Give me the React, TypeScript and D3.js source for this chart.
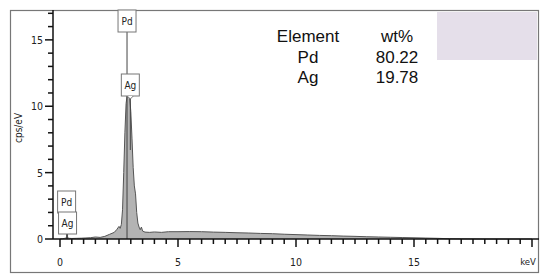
import * as d3 from "d3";
import React from "react";

// spectrum (keV, cps/eV)
const energy = [0, 0.1, 0.2, 0.3, 0.4, 0.5, 0.7, 0.9, 1.1, 1.3, 1.5, 1.7, 1.9, 2.1, 2.3, 2.4, 2.5, 2.55, 2.6, 2.65, 2.7, 2.75, 2.8, 2.85, 2.9, 2.95, 3.0, 3.05, 3.1, 3.15, 3.2, 3.25, 3.3, 3.35, 3.4, 3.45, 3.5, 3.6, 3.8, 4.0, 4.3, 4.6, 5.0, 5.5, 6.0, 6.5, 7.0, 7.5, 8.0, 8.5, 9.0, 9.5, 10.0, 10.5, 11.0, 11.5, 12.0, 12.5, 13.0, 13.5, 14.0, 14.5, 15.0, 15.5, 16.0, 16.5, 17.0, 18.0, 20.0];
const counts = [0, 0.02, 0.05, 0.1, 0.05, 0.04, 0.05, 0.06, 0.08, 0.1, 0.15, 0.12, 0.2, 0.35, 0.5, 0.7, 0.95, 0.8, 1.1, 2.2, 5.0, 8.0, 10.2, 10.9, 11.0, 10.7, 9.6, 7.6, 5.4, 4.0, 3.4, 2.0, 1.2, 0.9, 0.7, 0.9, 0.6, 0.52, 0.5, 0.53, 0.5, 0.55, 0.55, 0.56, 0.55, 0.52, 0.5, 0.47, 0.45, 0.42, 0.4, 0.36, 0.33, 0.3, 0.27, 0.25, 0.22, 0.2, 0.17, 0.15, 0.13, 0.11, 0.09, 0.07, 0.05, 0.02, 0.01, 0, 0];

// peak markers
const markerNames = ["Pd", "Ag", "Pd", "Ag"];
const markerEnergy = [2.84, 2.98, 0.28, 0.32];
const markerTop = [10, 74, 191, 212];

// quantification table
const elements = ["Pd", "Ag"];
const wtPct = ["80.22", "19.78"];

const xTicks = [0, 5, 10, 15];
const yTicks = [0, 5, 10, 15];

const W = 550;
const H = 280;
const x = d3.scaleLinear().domain([0, 20]).range([60, 532]);
const y = d3.scaleLinear().domain([0, 17.25]).range([239, 10]);

const axisFont = "'DejaVu Sans Condensed', 'DejaVu Sans', sans-serif";
const tableFont = "'Liberation Sans', Arial, sans-serif";

const App = () => {
  const pts = energy.map((e, i) => [e, counts[i]] as [number, number]);
  const area = d3
    .area<[number, number]>()
    .x((d) => x(d[0]))
    .y0(y(0))
    .y1((d) => y(d[1]));
  const line = d3
    .line<[number, number]>()
    .x((d) => x(d[0]))
    .y((d) => y(d[1]));

  const minorX = d3.range(0, 20.01, 0.5);
  const minorY = d3.range(0, 17.01, 1);

  return (
    <svg width={W} height={H} style={{ position: "absolute", left: 0, top: 0 }}>
      <rect x={0} y={0} width={W} height={H} fill="#fff" />
      <rect x={10.5} y={10.5} width={528} height={262} fill="none" stroke="#777" strokeWidth={1.2} />

      {/* spectrum */}
      <path d={area(pts) ?? ""} fill="#b3b3b3" />
      <path d={line(pts) ?? ""} fill="none" stroke="#555" strokeWidth={1} />

      {/* marker lines and boxes */}
      {markerNames.map((m, i) => {
        const cx = x(markerEnergy[i]);
        const top = markerTop[i];
        const bw = 18;
        const bh = 22;
        const isAgMain = i === 1;
        return (
          <g key={i}>
            <line x1={cx} x2={cx} y1={top + bh} y2={isAgMain ? 150 : y(0)} stroke="#444" strokeWidth={1} />
            <rect x={cx - bw / 2} y={top} width={bw} height={bh} fill="#fff" stroke="#777" strokeWidth={1} />
            {isAgMain && (
              <path
                d={`M${cx - 3},${top + bh} L${cx},${top + bh + 3} L${cx + 3},${top + bh}`}
                fill="#fff"
                stroke="#777"
              />
            )}
            <text x={cx} y={top + 15} textAnchor="middle" fontFamily={axisFont} fontSize={10} fill="#222">
              {m}
            </text>
          </g>
        );
      })}

      {/* x axis */}
      <line x1={53} x2={539} y1={y(0)} y2={y(0)} stroke="#111" strokeWidth={1.5} />
      {minorX.map((v) => (
        <line
          key={v}
          x1={x(v)}
          x2={x(v)}
          y1={y(0)}
          y2={y(0) + (v % 5 === 0 ? 8 : 5)}
          stroke="#111"
          strokeWidth={1.5}
        />
      ))}
      {xTicks.map((v) => (
        <text key={v} x={x(v)} y={266} textAnchor="middle" fontFamily={axisFont} fontSize={10.5} fill="#222">
          {v}
        </text>
      ))}
      <text x={528} y={265} textAnchor="middle" fontFamily={axisFont} fontSize={9.5} fill="#222">
        keV
      </text>

      {/* y axis */}
      <line x1={53} x2={53} y1={10} y2={y(0)} stroke="#111" strokeWidth={1.5} />
      {minorY.map((v) => (
        <line
          key={v}
          x1={53}
          x2={53 - (v % 5 === 0 ? 8 : 5)}
          y1={y(v)}
          y2={y(v)}
          stroke="#111"
          strokeWidth={1.5}
        />
      ))}
      {yTicks.map((v) => (
        <text key={v} x={43} y={y(v) + 4} textAnchor="end" fontFamily={axisFont} fontSize={10.5} fill="#222">
          {v}
        </text>
      ))}
      <text
        transform="translate(22,128) rotate(-90)"
        textAnchor="middle"
        fontFamily={axisFont}
        fontSize={10}
        fill="#222"
      >
        cps/eV
      </text>

      {/* quant table */}
      <rect x={437} y={12} width={100} height={48} fill="#e5dfea" />
      <text x={308} y={42} textAnchor="middle" fontFamily={tableFont} fontSize={17} fill="#111">
        Element
      </text>
      <text x={397} y={42} textAnchor="middle" fontFamily={tableFont} fontSize={17} fill="#111">
        wt%
      </text>
      {elements.map((el, i) => (
        <g key={el}>
          <text x={308} y={62.5 + i * 20.5} textAnchor="middle" fontFamily={tableFont} fontSize={17} fill="#111">
            {el}
          </text>
          <text x={397} y={62.5 + i * 20.5} textAnchor="middle" fontFamily={tableFont} fontSize={17} fill="#111">
            {wtPct[i]}
          </text>
        </g>
      ))}
    </svg>
  );
};

export default App;
